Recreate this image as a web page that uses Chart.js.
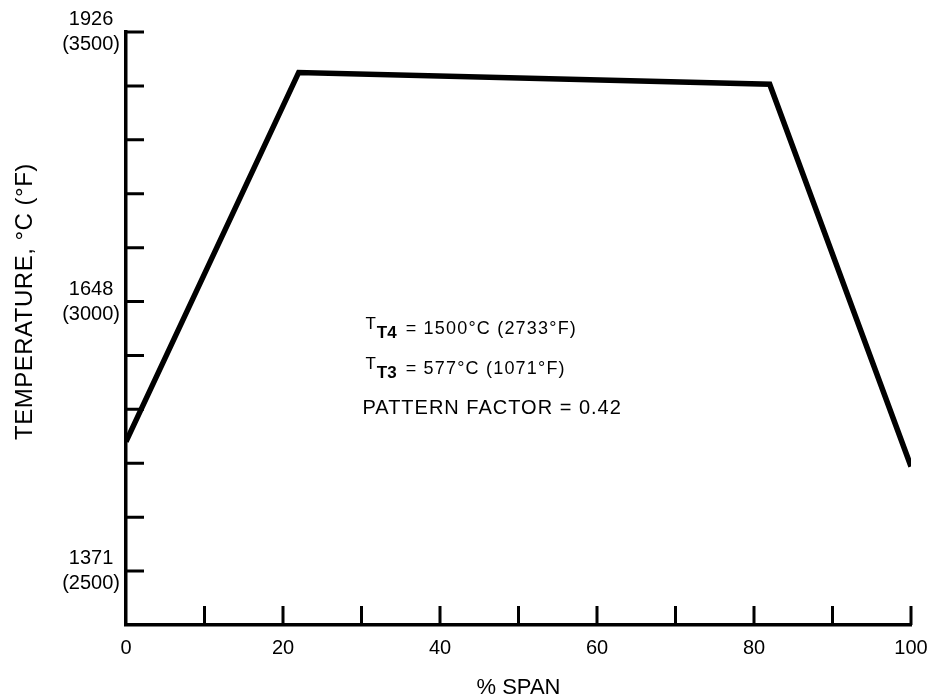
<!DOCTYPE html>
<html>
<head>
<meta charset="utf-8">
<script src="https://cdn.jsdelivr.net/npm/chart.js@4.4.1/dist/chart.umd.min.js"></script>
<style>
  html, body { margin: 0; padding: 0; background: #fff; }
  #wrap { width: 932px; height: 698px; }
</style>
</head>
<body>
<div id="wrap"><canvas id="tempChart" width="932" height="698"></canvas></div>
<script>
// Radial temperature profile across the span
const spanPct = [0, 22, 82, 100];
const tempF = [2740, 3425, 3403, 2694];

// Labelled temperature ticks, °F with matching °C
const labelF = [2500, 3000, 3500];
const labelC = [1371, 1648, 1926];

// X tick labels shown every 20 %
const xLabels = [0, 20, 40, 60, 80, 100];

// Text block inside the plot
const noteLines = [
  { main: 'T', sub: 'T4', rest: '= 1500\u00B0C (2733\u00B0F)' },
  { main: 'T', sub: 'T3', rest: '= 577\u00B0C (1071\u00B0F)' },
  { main: 'PATTERN FACTOR = 0.42', sub: '', rest: '' }
];
const noteAnchor = { x: 30.5, y: 2940 };
const yTitle = 'TEMPERATURE, \u00B0C (\u00B0F)';
const yTitleAt = 3000;

const FONT = '"Liberation Sans", Arial, Helvetica, sans-serif';

// inward tick marks drawn from the scale ticks
const inwardTicks = {
  id: 'inwardTicks',
  afterDraw(chart) {
    const { ctx, chartArea, scales } = chart;
    ctx.save();
    ctx.strokeStyle = '#000';
    ctx.lineWidth = 3;
    ctx.beginPath();
    scales.x.ticks.forEach(t => {
      if (t.value === 0) return;
      const px = scales.x.getPixelForValue(t.value);
      ctx.moveTo(px, chartArea.bottom);
      ctx.lineTo(px, chartArea.bottom - 19);
    });
    scales.y.ticks.forEach(t => {
      if (t.value === scales.y.min) return;
      const py = scales.y.getPixelForValue(t.value);
      ctx.moveTo(chartArea.left, py);
      ctx.lineTo(chartArea.left + 18, py);
    });
    ctx.stroke();
    ctx.restore();
  }
};

// annotation text with subscripts, plus the rotated axis title
const notes = {
  id: 'notes',
  afterDraw(chart) {
    const { ctx, scales } = chart;
    const x0 = scales.x.getPixelForValue(noteAnchor.x);
    let y = scales.y.getPixelForValue(noteAnchor.y);
    ctx.save();
    ctx.fillStyle = '#000';
    ctx.textBaseline = 'alphabetic';
    noteLines.forEach(line => {
      let x = x0;
      if (line.sub) {
        ctx.letterSpacing = '0px';
        ctx.font = '17px ' + FONT;
        ctx.fillText(line.main, x, y - 5);
        x += ctx.measureText(line.main).width + 1;
        ctx.font = 'bold 17px ' + FONT;
        ctx.fillText(line.sub, x, y + 4);
        x += ctx.measureText(line.sub).width + 9;
        ctx.letterSpacing = '1.2px';
        ctx.font = '18px ' + FONT;
        ctx.fillText(line.rest, x, y);
      } else {
        ctx.letterSpacing = '1px';
        ctx.font = '20px ' + FONT;
        ctx.fillText(line.main, x - 3, y);
      }
      y += 40;
    });

    ctx.letterSpacing = '0.5px';
    ctx.font = '24px ' + FONT;
    ctx.textAlign = 'center';
    ctx.textBaseline = 'middle';
    ctx.translate(25, scales.y.getPixelForValue(yTitleAt));
    ctx.rotate(-Math.PI / 2);
    ctx.fillText(yTitle, 0, 0);
    ctx.restore();
  }
};

new Chart(document.getElementById('tempChart'), {
  type: 'line',
  data: {
    datasets: [{
      data: spanPct.map((s, i) => ({ x: s, y: tempF[i] })),
      borderColor: '#000',
      borderWidth: 5.5,
      borderJoinStyle: 'miter',
      pointRadius: 0,
      tension: 0,
      fill: false
    }]
  },
  options: {
    responsive: false,
    animation: false,
    layout: { padding: { left: 0, top: 32, right: 21, bottom: 0 } },
    plugins: { legend: { display: false }, tooltip: { enabled: false } },
    scales: {
      x: {
        type: 'linear',
        min: 0,
        max: 100,
        afterFit(s) {
          s.height = 73;
          s.paddingLeft = 0;
          s.paddingRight = 0;
        },
        grid: { drawOnChartArea: false, drawTicks: false },
        border: { color: '#000', width: 3.5 },
        ticks: {
          stepSize: 10,
          autoSkip: false,
          maxRotation: 0,
          padding: 11,
          color: '#000',
          font: { family: FONT, size: 20 },
          callback: v => xLabels.includes(v) ? String(v) : ''
        },
        title: {
          display: true,
          text: '% SPAN',
          color: '#000',
          font: { family: FONT, size: 22 },
          padding: { top: 4, bottom: -3 }
        }
      },
      y: {
        type: 'linear',
        min: 2400,
        max: 3500,
        afterFit(s) { s.width = 126; },
        grid: { drawOnChartArea: false, drawTicks: false },
        border: { color: '#000', width: 3.5 },
        ticks: {
          stepSize: 100,
          autoSkip: false,
          padding: 6,
          crossAlign: 'center',
          color: '#000',
          font: { family: FONT, size: 20, lineHeight: 1.25 },
          callback: v => {
            const i = labelF.indexOf(v);
            return i < 0 ? '' : [String(labelC[i]), '(' + labelF[i] + ')'];
          }
        }
      }
    }
  },
  plugins: [inwardTicks, notes]
});
</script>
</body>
</html>
